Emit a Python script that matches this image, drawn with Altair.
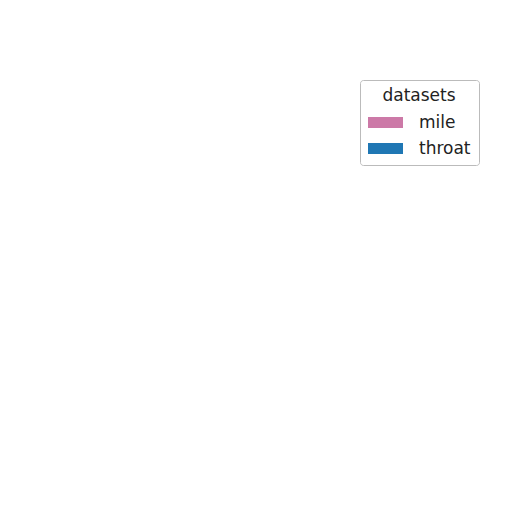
import altair as alt
import pandas as pd

datasets = ["mile", "throat"]
values = [0, 0]
colors = ["#cc79a7", "#1f77b4"]

df = pd.DataFrame({"dataset": datasets, "value": values})

chart = alt.Chart(df).mark_bar(opacity=0).encode(
    x=alt.X("dataset:N", axis=None),
    y=alt.Y("value:Q", axis=None),
    color=alt.Color(
        "dataset:N",
        scale=alt.Scale(domain=datasets, range=colors),
        legend=alt.Legend(
            title="datasets",
            orient="none",
            legendX=352,
            legendY=72,
            symbolType="M-1,-0.32L1,-0.32L1,0.32L-1,0.32Z",
            symbolSize=1225,
            symbolStrokeWidth=0,
            symbolOpacity=1,
            labelFont="DejaVu Sans",
            labelFontSize=17,
            labelColor="#222222",
            labelOffset=16,
            titleFont="DejaVu Sans",
            titleFontSize=17,
            titleFontWeight="normal",
            titleColor="#222222",
            titleAnchor="middle",
            titlePadding=0,
            rowPadding=0,
            padding=8,
            strokeColor="#bbbbbb",
            cornerRadius=3,
            fillColor="white",
        ),
    ),
).properties(
    width=496,
    height=496,
    padding=0,
    autosize=alt.AutoSizeParams(type="fit", contains="padding"),
).configure_view(stroke=None)

chart.save("out.html", embed_options={"renderer": "svg", "actions": False})
